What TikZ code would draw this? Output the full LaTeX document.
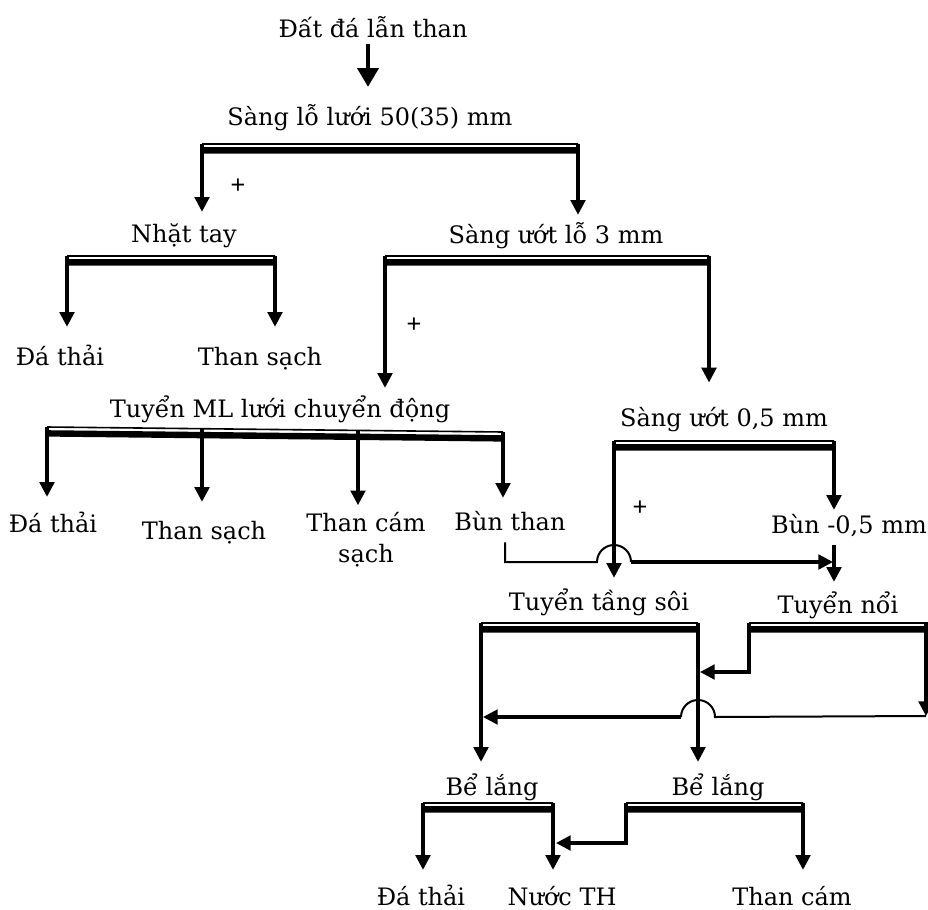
\documentclass[tikz,border=0pt]{standalone}
\usepackage{fontspec}
\setmainfont{DejaVu Serif}
\newfontfamily\plusfont{Liberation Sans}
\usetikzlibrary{arrows.meta}

\begin{document}
\begin{tikzpicture}[
    x=0.75pt, y=-0.75pt,
    txt/.style={inner sep=0pt, anchor=base, text height=14pt, text depth=5pt, font=\fontsize{18}{23}\selectfont},
    plus/.style={inner sep=0pt, font=\plusfont\fontsize{19}{21}\selectfont},
    thinbar/.style={draw, line width=1.2pt},
    thickbar/.style={draw, line width=4.8pt},
    line/.style={draw, line width=2.3pt},
    thinline/.style={draw, line width=1.5pt},
    flow/.style={line, -{Triangle[width=11pt,length=11pt]}},
    bigflow/.style={line, -{Triangle[width=16pt,length=14pt]}}
]
\useasboundingbox (0,0) rectangle (928,910);

% Feed
\node[txt] (feed) at (373,37) {Đất đá lẫn than};
\node[txt] (sang50) at (370,125) {Sàng lỗ lưới 50(35) mm};

% Level 1
\node[txt] (nhat) at (184,242) {Nhặt tay};
\node[txt] (sang3) at (556,243) {Sàng ướt lỗ 3 mm};
\node[txt] (dt1) at (60,365) {Đá thải};
\node[txt] (ts1) at (260,365) {Than sạch};

% Level 2
\node[txt] (tml) at (280,417) {Tuyển ML lưới chuyển động};
\node[txt] (sang05) at (724,426) {Sàng ướt 0,5 mm};
\node[txt] (dt2) at (53,532) {Đá thải};
\node[txt] (ts2) at (204,539) {Than sạch};
\node[txt, anchor=north, text height=, text depth=, align=center] (tcs) at (366,512.5) {Than cám\\sạch};
\node[txt] (bt) at (510,530) {Bùn than};
\node[txt] (bm) at (849,533) {Bùn -0,5 mm};

% Level 3
\node[txt] (tts) at (599,610) {Tuyển tầng sôi};
\node[txt] (tn) at (838,613) {Tuyển nổi};
\node[txt] (bl1) at (492,795) {Bể lắng};
\node[txt] (bl2) at (718,795) {Bể lắng};
\node[txt] (dt3) at (421,905) {Đá thải};
\node[txt] (nth) at (562,905) {Nước TH};
\node[txt] (tc) at (792,905) {Than cám};

% Plus signs
\node[plus] (p1) at (238,186) {+};
\node[plus] (p2) at (414,325) {+};
\node[plus] (p3) at (640,508) {+};

% Screens
\coordinate (s1a) at (202,144); \coordinate (s1b) at (578,144);
\coordinate (s2a) at (67,256);  \coordinate (s2b) at (275,256);
\coordinate (s3a) at (385,256); \coordinate (s3b) at (709,256);
\coordinate (s4a) at (47,427);  \coordinate (s4b) at (503,432);
\coordinate (s4c) at (202,429); \coordinate (s4d) at (358,431);
\coordinate (s5a) at (614,441); \coordinate (s5b) at (834,441);
\coordinate (s6a) at (481,623); \coordinate (s6b) at (698,623);
\coordinate (s7a) at (749,623); \coordinate (s7b) at (926,623);
\coordinate (s8a) at (423,803); \coordinate (s8b) at (553,803);
\coordinate (s9a) at (626,803); \coordinate (s9b) at (803,803);

\draw[thinbar] (s1a) -- (s1b) (s2a) -- (s2b) (s3a) -- (s3b) (s4a) -- (s4b) (s5a) -- (s5b)
    (s6a) -- (s6b) (s7a) -- (940,623) (s8a) -- (s8b) (s9a) -- (s9b);
\draw[thickbar] ([yshift=-4.8pt]s1a) -- ([yshift=-4.8pt]s1b) ([yshift=-4.8pt]s2a) -- ([yshift=-4.8pt]s2b)
    ([yshift=-4.8pt]s3a) -- ([yshift=-4.8pt]s3b) ([yshift=-4.8pt]s4a) -- ([yshift=-4.8pt]s4b)
    ([yshift=-4.8pt]s5a) -- ([yshift=-4.8pt]s5b) ([yshift=-4.8pt]s6a) -- ([yshift=-4.8pt]s6b)
    ([yshift=-4.8pt]s7a) -- ([yshift=-4.8pt]940,623) ([yshift=-4.8pt]s8a) -- ([yshift=-4.8pt]s8b)
    ([yshift=-4.8pt]s9a) -- ([yshift=-4.8pt]s9b);

% Junctions
\coordinate (j1) at (700,672);
\coordinate (j2) at (556,843);
\coordinate (j3) at (483,717);
\coordinate (j4) at (833,562);
\coordinate (r1) at (926,716);
\coordinate (b1) at (505,562);
\coordinate (h1a) at (597,562); \coordinate (h1b) at (631,562);
\coordinate (h2a) at (715,717); \coordinate (h2b) at (681,717);

% Draw lines
\draw[bigflow, shorten >=14.5pt] (feed.south) ++(-5,0) coordinate (f0) -- (f0 |- sang50.north);
\draw[flow, shorten >=8.5pt] (s1a) -- (s1a |- nhat.north);
\draw[flow, shorten >=7pt] (s1b) -- (s1b |- sang3.north);
\draw[flow, shorten >=14.5pt] (s2a) -- (s2a |- dt1.north);
\draw[flow, shorten >=14.5pt] (s2b) -- (s2b |- ts1.north);
\draw[flow, shorten >=7.7pt] (s3a) -- (s3a |- tml.north);
\draw[flow, shorten >=18.5pt] (s3b) -- (s3b |- sang05.north);
\draw[flow, shorten >=12.2pt] (s4a) -- (s4a |- dt2.north);
\draw[flow, shorten >=13.7pt] (s4c) -- (s4c |- ts2.north);
\draw[flow, shorten >=5.5pt] (s4d) -- (s4d |- tcs.north);
\draw[flow, shorten >=10pt] (s4b) -- (s4b |- bt.north);
\draw[flow, shorten >=10pt] (s5a) -- (s5a |- tts.north);
\draw[flow, shorten >=3.2pt] (s5b) -- (s5b |- bm.north);
\draw[flow, shorten >=9.2pt, shorten <=4pt] (bm.south -| s5b) -- (s5b |- tn.north);
\draw[thinline, shorten <=4pt] (bt.south -| b1) -- (b1) -- (h1a) arc[start angle=180, end angle=0, radius=12.75pt];
\draw[flow] (h1b) -- (j4);
\draw[flow, shorten >=10.7pt] (s6a) -- (s6a |- bl1.north);
\draw[flow, shorten >=10.7pt] (s6b) -- (s6b |- bl2.north);
\draw[flow] (s7a) |- (j1);
\draw[flow] (s7b) -- (r1);
\draw[thinline] (r1) -- (h2a) arc[start angle=0, end angle=180, radius=12.75pt];
\draw[flow] (h2b) -- (j3);
\draw[flow, shorten >=12.2pt] (s8a) -- (s8a |- dt3.north);
\draw[flow, shorten >=12.2pt] (s8b) -- (s8b |- nth.north);
\draw[flow] (s9a) |- (j2);
\draw[flow, shorten >=12.2pt] (s9b) -- (s9b |- tc.north);
\end{tikzpicture}
\end{document}
